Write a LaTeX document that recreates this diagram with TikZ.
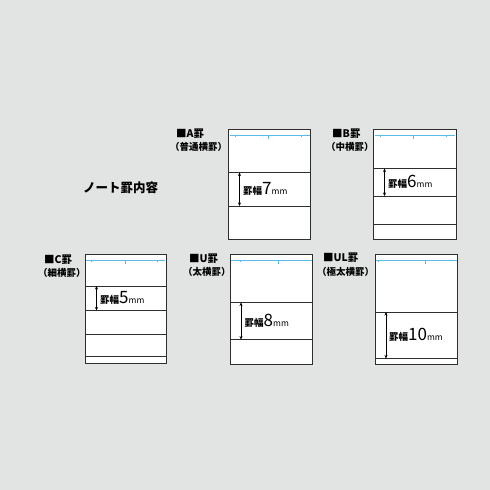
\documentclass[tikz,border=0pt]{standalone}
\usepackage{fontspec}
\setmainfont{Noto Sans CJK JP}
\usetikzlibrary{arrows.meta}
\definecolor{bgGray}{HTML}{E2E3E3}
\definecolor{ruleBlue}{HTML}{5BB8E8}
\definecolor{frameGray}{HTML}{2E2E2E}

\newcommand{\haba}[1]{{\fontsize{9.5}{9}\selectfont\bfseries 罫幅}{\fontsize{17}{15}\selectfont #1}{\fontsize{8.5}{8}\selectfont mm}}

\begin{document}
\begin{tikzpicture}[x=1pt,y=-1pt,>={Stealth[length=3.5pt,width=3pt]}]
        \tikzset{
            sheet/.style={draw=frameGray, fill=white, line width=0.9pt},
            ruled/.style={frameGray, line width=0.9pt},
            topline/.style={ruleBlue, line width=0.9pt},
            tick/.style={ruleBlue, line width=0.5pt},
            kind/.style={anchor=west, font=\fontsize{10.5}{10}\selectfont\bfseries, inner sep=0pt},
            kindsub/.style={anchor=west, font=\fontsize{9.5}{10}\selectfont\bfseries, inner sep=0pt},
            span/.style={<->, line width=0.5pt, black},
            pitch/.style={anchor=west, inner sep=0pt}
        }

        % background
        \fill[bgGray] (0,0) rectangle (490,490);

        % title
        \node[anchor=west, inner sep=0pt, font=\fontsize{12.5}{12}\selectfont\bfseries] (title) at (83,188) {ノート罫内容};

        % A
        \draw[sheet] (228.5,129.5) rectangle (310.5,239);
        \draw[topline] (229.5,135) -- (309.5,135);
        \draw[tick] (235.5,135) -- +(0,2) (268.5,135) -- +(0,4) (301.5,135) -- +(0,2);
        \coordinate (a1) at (239.5,172.5);
        \coordinate (a2) at (239.5,206);
        \draw[ruled] (228.5,172.5) -- (310.5,172.5) (228.5,206) -- (310.5,206);
        \draw[span] (a1) -- (a2);
        \node[pitch] (pA) at (243,189) {\haba{7}};
        \node[kind] (kA) at (176,134) {■A罫};
        \node[kindsub] (sA) at (170,147) {（普通横罫）};

        % B
        \draw[sheet] (373.5,129.5) rectangle (456,239);
        \draw[topline] (374.5,135) -- (455,135);
        \draw[tick] (380,135) -- +(0,2) (413,135) -- +(0,4) (446,135) -- +(0,2);
        \coordinate (b1) at (384.5,168.5);
        \coordinate (b2) at (384.5,196);
        \draw[ruled] (373.5,168.5) -- (456,168.5) (373.5,196) -- (456,196) (373.5,224.5) -- (456,224.5);
        \draw[span] (b1) -- (b2);
        \node[pitch] (pB) at (388,182) {\haba{6}};
        \node[kind] (kB) at (332,134) {■B罫};
        \node[kindsub] (sB) at (326,147) {（中横罫）};

        % C
        \draw[sheet] (85,254.5) rectangle (166,363.5);
        \draw[topline] (86,260) -- (165,260);
        \draw[tick] (91.5,260) -- +(0,2) (125,260) -- +(0,4) (157.5,260) -- +(0,2);
        \coordinate (c1) at (96.5,286);
        \coordinate (c2) at (96.5,310.5);
        \draw[ruled] (85,286) -- (166,286) (85,310.5) -- (166,310.5) (85,334.5) -- (166,334.5) (85,356.5) -- (166,356.5);
        \draw[span] (c1) -- (c2);
        \node[pitch] (pC) at (100,298) {\haba{5}};
        \node[kind] (kC) at (44,260) {■C罫};
        \node[kindsub] (sC) at (38,273) {（細横罫）};

        % U
        \draw[sheet] (230,254.5) rectangle (312.5,364.5);
        \draw[topline] (231,260) -- (311.5,260);
        \draw[tick] (240.5,260) -- +(0,2) (278,260) -- +(0,4);
        \coordinate (u1) at (241,302.5);
        \coordinate (u2) at (241,339.5);
        \draw[ruled] (230,302.5) -- (312.5,302.5) (230,339.5) -- (312.5,339.5);
        \draw[span] (u1) -- (u2);
        \node[pitch] (pU) at (244.5,321) {\haba{8}};
        \node[kind] (kU) at (189,259) {■U罫};
        \node[kindsub] (sU) at (183,271.5) {（太横罫）};

        % UL
        \draw[sheet] (375,254.5) rectangle (457.5,364.5);
        \draw[topline] (376,260) -- (456.5,260);
        \draw[tick] (378.5,260) -- +(0,2) (425.5,260) -- +(0,4);
        \coordinate (l1) at (386,312);
        \coordinate (l2) at (386,358.5);
        \draw[ruled] (375,312) -- (457.5,312) (375,358.5) -- (457.5,358.5);
        \draw[span] (l1) -- (l2);
        \node[pitch] (pL) at (389,335) {\haba{10}};
        \node[kind] (kL) at (323,258) {■UL罫};
        \node[kindsub] (sL) at (317,271.5) {（極太横罫）};
\end{tikzpicture}
\end{document}
